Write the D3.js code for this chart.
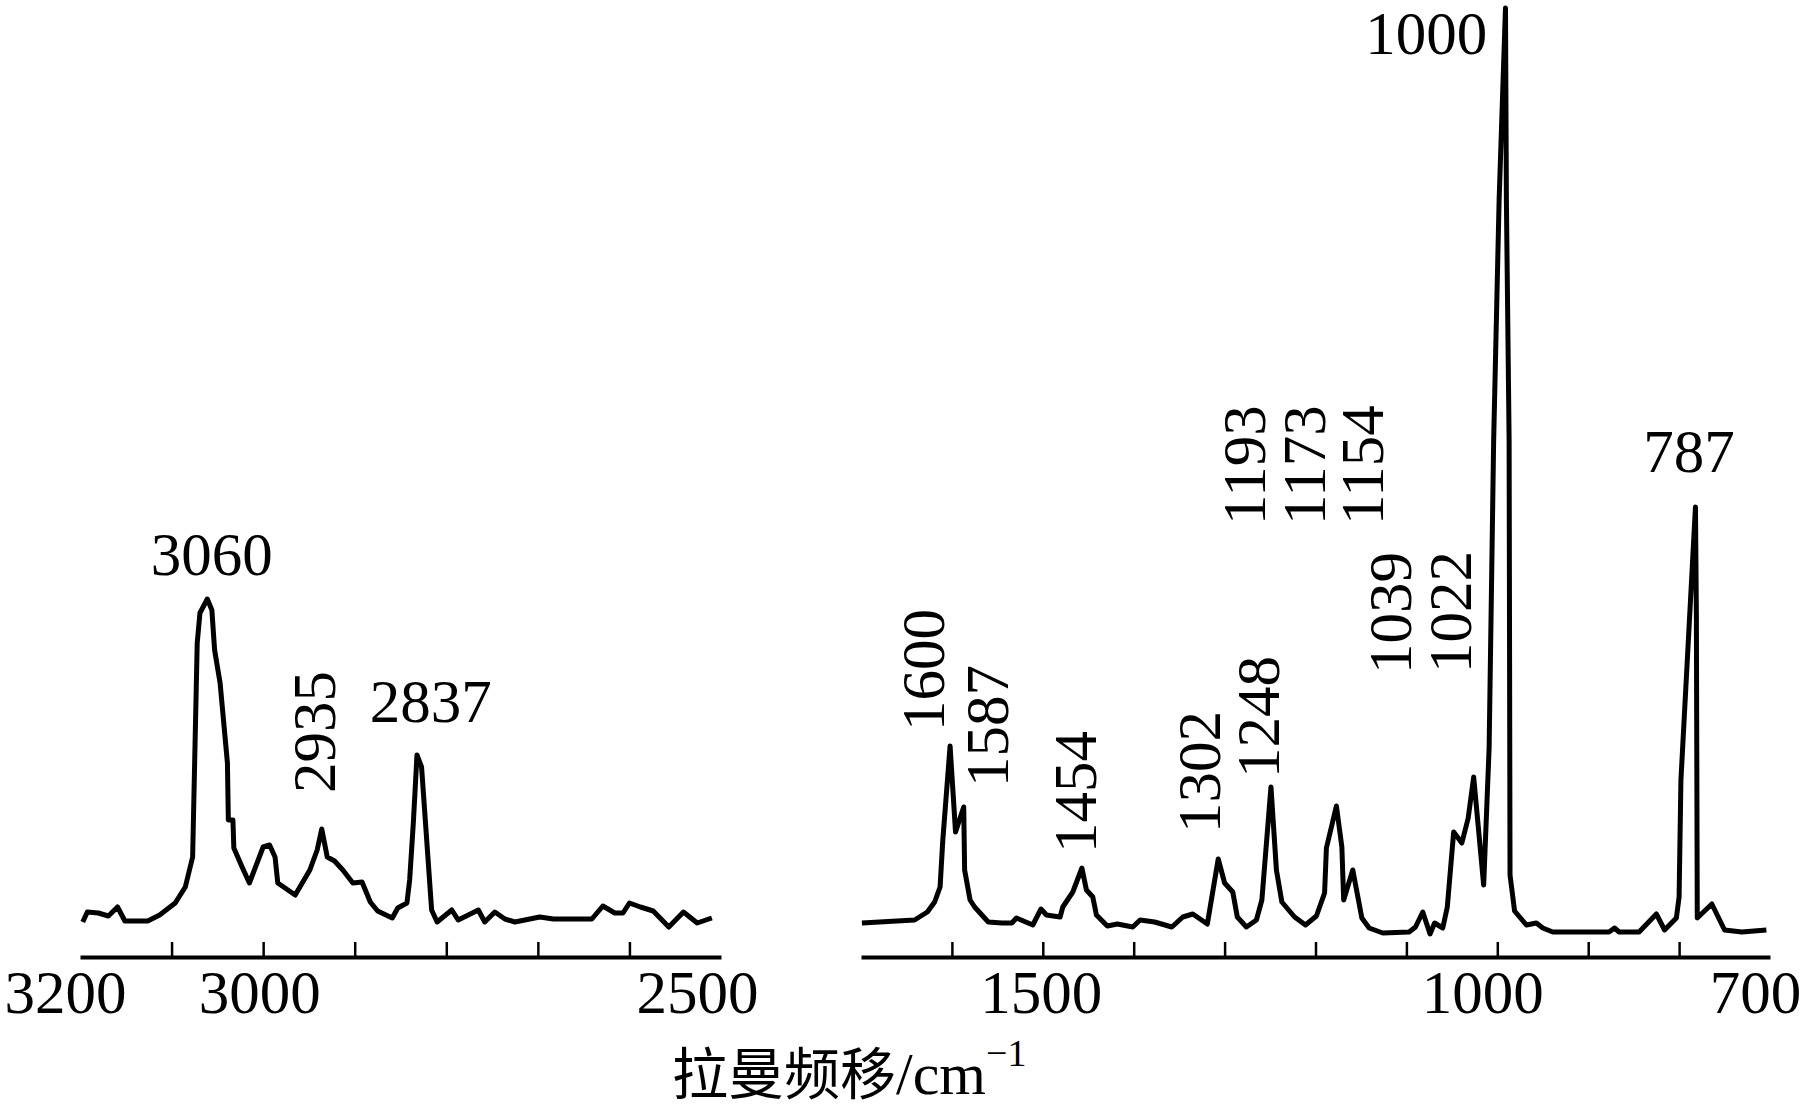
<!DOCTYPE html>
<html>
<head>
<meta charset="utf-8">
<script src="https://cdnjs.cloudflare.com/ajax/libs/d3/7.8.5/d3.min.js"></script>
<style>
    body { margin: 0; background: #fff; }
    #viz { width: 1805px; height: 1110px; }
    text { font-family: "Liberation Serif", "Times New Roman", serif; fill: #000; }
</style>
</head>
<body>
<div id="viz"></div>
<script>
// left panel (C-H stretch region)
var leftShift = [3197, 3192, 3180, 3169, 3159, 3151, 3126, 3113, 3096, 3085, 3077, 3072, 3069, 3061, 3056, 3053,
    3047, 3039, 3038, 3033, 3032, 3023, 3015, 3000, 2993, 2987, 2984, 2965, 2949, 2941, 2936, 2930, 2922, 2913,
    2902, 2892, 2883, 2875, 2859, 2853, 2843, 2840, 2836, 2832, 2827, 2816, 2810, 2794, 2787, 2765, 2758, 2747,
    2736, 2725, 2698, 2683, 2641, 2629, 2616, 2607, 2600, 2588, 2574, 2557, 2541, 2526, 2510];
var leftIntensity = [35, 45, 44, 41, 50, 36, 36, 42, 54, 70, 100, 314, 344, 358, 347, 307,
    274, 194, 137, 137, 109, 90, 74, 110, 112, 100, 74, 62, 87, 107, 128, 100, 96, 87,
    74, 75, 55, 46, 39, 49, 54, 77, 134, 202, 190, 47, 35, 47, 37, 47, 35, 45,
    38, 35, 40, 38, 38, 51, 44, 44, 54, 50, 46, 30, 45, 34, 39];

// right panel (fingerprint region)
var rightShift = [1699, 1641, 1627, 1619, 1613, 1610, 1602, 1596, 1587, 1586, 1580, 1575, 1560, 1545, 1534, 1529,
    1511, 1502, 1496, 1481, 1478, 1467, 1457, 1452, 1445, 1441, 1429, 1418, 1401, 1393, 1377, 1358, 1346, 1335,
    1319, 1307, 1300, 1291, 1286, 1276, 1265, 1259, 1249, 1243, 1237, 1223, 1211, 1199, 1190, 1188, 1177, 1171,
    1169, 1159, 1149, 1141, 1126, 1097, 1090, 1082, 1074, 1069, 1060, 1055, 1048, 1039, 1032, 1026, 1015, 1009,
    1004, 998, 991, 990, 987, 986, 981, 968, 957, 950, 939, 902, 877, 871, 866, 844, 825, 816, 803, 800,
    798, 782, 781, 780, 764, 750, 731, 704];
var rightIntensity = [34, 37, 45, 55, 70, 117, 211, 125, 150, 87, 57, 50, 35, 34, 34, 39,
    32, 48, 42, 40, 50, 65, 89, 67, 60, 42, 31, 33, 30, 37, 35, 30, 40, 43,
    33, 98, 74, 65, 40, 30, 37, 57, 170, 87, 55, 40, 32, 41, 64, 109, 151, 110,
    57, 87, 39, 29, 24, 25, 30, 45, 23, 34, 29, 50, 125, 114, 139, 180, 72, 209,
    517, 757, 949, 757, 517, 82, 46, 32, 34, 29, 25, 25, 25, 29, 25, 25, 43, 27, 39, 60,
    177, 450, 343, 39, 53, 27, 25, 27];

var leftTicks = [3100, 3000, 2900, 2800, 2700, 2600];
var leftTickLabels = [3200, 3000, 2500];
var rightTicks = [1600, 1500, 1400, 1300, 1200, 1100, 1000, 900, 800];
var rightTickLabels = [1500, 1000, 700];

// peak labels: text, anchor (shift, intensity), upright or rotated
var leftPeakNames = ["3060", "2935", "2837"];
var leftPeakAt = [3056, 2922, 2817];
var leftPeakLevel = [382, 164, 235];
var leftPeakRotated = [false, true, false];

var rightPeakNames = ["1600", "1587", "1454", "1302", "1248", "1193", "1173", "1154", "1039", "1022", "1000", "787"];
var rightPeakAt = [1609, 1538, 1442, 1305, 1240, 1256, 1190, 1126, 1095, 1029, 1011, 789];
var rightPeakLevel = [226, 170, 104, 124, 179, 432, 432, 432, 283, 284, 903, 485];
var rightPeakRotated = [true, true, true, true, true, true, true, true, true, true, false, false];

var labelNudge = {3200: -15, 3000: -4, 2500: -24, 1500: -2, 1000: -15, 700: -15};

var svg = d3.select('#viz').append('svg').attr('width', 1805).attr('height', 1110);

var y = d3.scaleLinear().domain([0, 950]).range([957, 7]);
var xLeft = d3.scaleLinear().domain([3200, 2500]).range([80, 721]);
var xRight = d3.scaleLinear().domain([1700, 700]).range([861, 1770]);

drawPanel(xLeft, leftShift, leftIntensity, leftTicks, leftTickLabels,
    leftPeakNames, leftPeakAt, leftPeakLevel, leftPeakRotated);
drawPanel(xRight, rightShift, rightIntensity, rightTicks, rightTickLabels,
    rightPeakNames, rightPeakAt, rightPeakLevel, rightPeakRotated);

function drawPanel(x, shifts, intens, ticks, tickLabels, names, at, level, rotated) {
    var g = svg.append('g');
    var pts = shifts.map(function (s, i) { return [s, intens[i]]; });

    // tick marks point up into the plot
    var tickAxis = g.append('g')
        .attr('transform', 'translate(0,' + y(0) + ')')
        .call(d3.axisBottom(x).tickValues(ticks).tickSizeInner(-15).tickSizeOuter(0).tickFormat(''));
    tickAxis.select('.domain').attr('stroke', '#000').attr('stroke-width', 4);
    tickAxis.selectAll('.tick line').attr('stroke', '#000').attr('stroke-width', 2.5);

    var labelAxis = g.append('g')
        .attr('transform', 'translate(0,' + y(0) + ')')
        .call(d3.axisBottom(x).tickValues(tickLabels).tickSize(0).tickFormat(d3.format('d')));
    labelAxis.select('.domain').remove();
    labelAxis.selectAll('.tick text')
        .attr('y', 56).attr('dy', 0)
        .attr('dx', function (d) { return labelNudge[d] || 0; })
        .style('font-size', '61px')
        .style('font-family', '"Liberation Serif", "Times New Roman", serif')
        .attr('fill', '#000');

    var line = d3.line()
        .x(function (d) { return x(d[0]); })
        .y(function (d) { return y(d[1]); });

    g.append('path')
        .datum(pts)
        .attr('d', line)
        .attr('fill', 'none')
        .attr('stroke', '#000')
        .attr('stroke-width', 5)
        .attr('stroke-linejoin', 'round');

    g.selectAll('.peak').data(names).enter()
        .append('text')
        .attr('class', 'peak')
        .attr('transform', function (d, i) {
            var t = 'translate(' + x(at[i]) + ',' + y(level[i]) + ')';
            return rotated[i] ? t + ' rotate(-90)' : t;
        })
        .attr('text-anchor', function (d, i) {
            if (rotated[i]) return 'start';
            return d === '1000' ? 'end' : 'middle';
        })
        .style('font-size', '61px')
        .text(function (d) { return d; });
}

// axis title
var title = svg.append('text')
    .attr('x', 672)
    .attr('y', 1094)
    .style('font-size', '60px');
title.append('tspan')
    .style('font-family', '"Noto Sans CJK SC", sans-serif')
    .style('font-size', '56px')
    .text('拉曼频移');
title.append('tspan').text('/cm');
title.append('tspan')
    .attr('dy', -28)
    .style('font-size', '38px')
    .text('\u22121');
</script>
</body>
</html>
